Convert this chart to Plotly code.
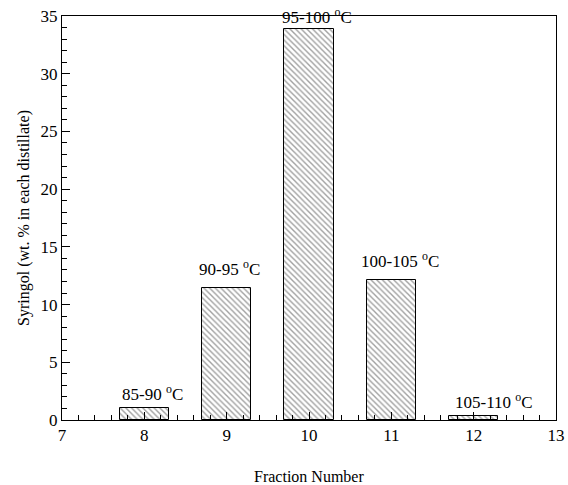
import plotly.graph_objects as go

fractions = [8, 9, 10, 11, 12]
syringol = [1.0, 11.4, 33.9, 12.1, 0.35]
temp_labels = ["85-90 <sup>o</sup>C", "90-95 <sup>o</sup>C", "95-100 <sup>o</sup>C",
               "100-105 <sup>o</sup>C", "105-110 <sup>o</sup>C"]
label_x = [8.1, 9.04, 10.1, 11.11, 12.25]
label_y = [1.2, 12.0, 33.9, 12.7, 0.5]

SERIF = "Liberation Serif"

fig = go.Figure()
fig.add_trace(go.Bar(
    x=fractions, y=syringol, width=0.6,
    marker=dict(color="white", line=dict(color="black", width=1),
                pattern=dict(shape="\\", size=4, solidity=0.35,
                             fgcolor="#444444", bgcolor="white")),
    showlegend=False,
))
for x, y, t in zip(label_x, label_y, temp_labels):
    fig.add_annotation(x=x, y=y, text=t, showarrow=False, yanchor="bottom",
                       font=dict(family=SERIF, size=17, color="black"))

fig.add_annotation(x=0.5, y=-0.141, xref="paper", yref="paper", text="Fraction Number",
                   showarrow=False, yanchor="middle",
                   font=dict(family=SERIF, size=16, color="black"))

fig.update_layout(
    width=568, height=485, margin=dict(l=62, r=12, t=16, b=65, autoexpand=False),
    plot_bgcolor="white", paper_bgcolor="white",
    font=dict(family=SERIF, size=17, color="black"),
    bargap=0,
)
fig.update_xaxes(range=[7, 13], tickmode="linear", tick0=7, dtick=1,
                 ticks="inside", ticklen=8, tickwidth=1.2, tickcolor="black",
                 minor=dict(dtick=0.2, ticks="inside", ticklen=5, tickwidth=1.2, tickcolor="black"),
                 showline=True, linecolor="black", linewidth=1, mirror=True,
                 showgrid=False, zeroline=False, automargin=False)
fig.update_yaxes(range=[0, 35], tickmode="linear", tick0=0, dtick=5,
                 ticks="inside", ticklen=8, tickwidth=1.2, tickcolor="black",
                 minor=dict(dtick=1, ticks="inside", ticklen=5, tickwidth=1.2, tickcolor="black"),
                 showline=True, linecolor="black", linewidth=1, mirror=True,
                 showgrid=False, zeroline=False, automargin=False,
                 title=dict(text="Syringol (wt. % in each distillate)", font=dict(size=16), standoff=6))
fig.write_html("out.html")
